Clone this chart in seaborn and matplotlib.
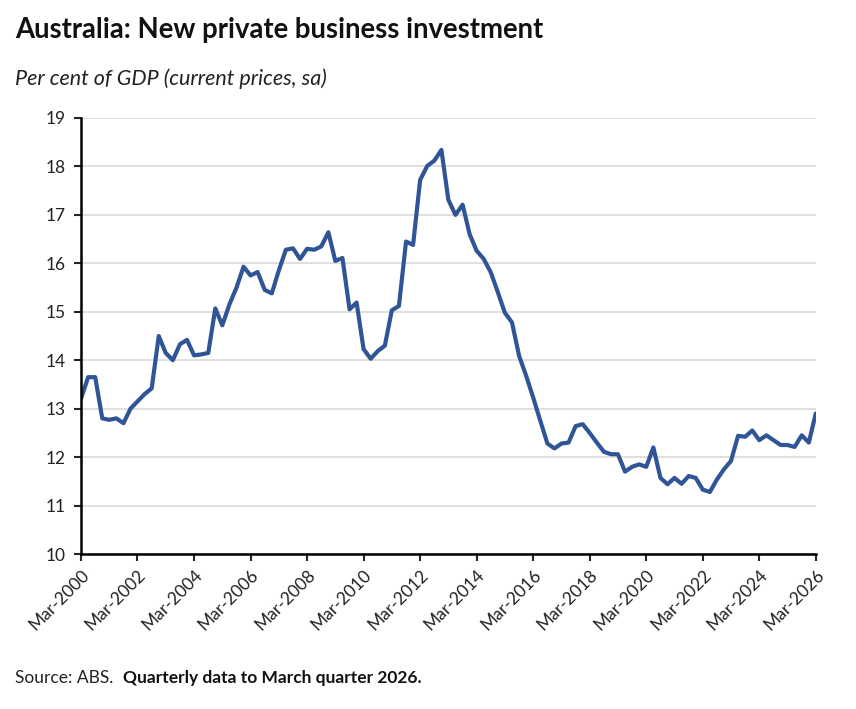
import matplotlib

matplotlib.use('Agg')
import matplotlib.pyplot as plt
import seaborn as sns
import pandas as pd

# Quarterly, Mar-2000 to Mar-2026 (per cent of GDP)
quarters = pd.date_range('2000-03-01', '2026-03-01', freq='QS-MAR')
investment = [
    13.2, 13.65, 13.65, 12.8, 12.77, 12.8, 12.7, 13.0, 13.15, 13.3,
    13.42, 14.5, 14.15, 14.0, 14.33, 14.42, 14.1, 14.12, 14.15, 15.07,
    14.72, 15.15, 15.5, 15.93, 15.75, 15.82, 15.45, 15.38, 15.85, 16.28,
    16.31, 16.09, 16.3, 16.28, 16.35, 16.64, 16.05, 16.11, 15.05, 15.19,
    14.23, 14.03, 14.19, 14.3, 15.03, 15.12, 16.45, 16.38, 17.72, 18.01,
    18.12, 18.34, 17.31, 17.0, 17.21, 16.6, 16.26, 16.09, 15.81, 15.4,
    14.98, 14.78, 14.09, 13.68, 13.23, 12.75, 12.28, 12.18, 12.28, 12.3,
    12.64, 12.68, 12.5, 12.3, 12.11, 12.06, 12.06, 11.7, 11.8, 11.85,
    11.8, 12.2, 11.57, 11.44, 11.57, 11.45, 11.61, 11.57, 11.33, 11.28,
    11.54, 11.75, 11.92, 12.44, 12.42, 12.55, 12.35, 12.45, 12.35, 12.25,
    12.25, 12.21, 12.45, 12.3, 12.9,
]
tick_years = list(range(2000, 2027, 2))
y_ticks = list(range(10, 20))

df = pd.DataFrame({'quarter': quarters, 'value': investment})

sns.set_style('white')
plt.rcParams['font.family'] = ['Lato', 'DejaVu Sans']

fig = plt.figure(figsize=(8.56, 7.09), dpi=100)
ax = fig.add_axes([0.0946, 0.2186, 0.8584, 0.615])

sns.lineplot(data=df, x='quarter', y='value', ax=ax, color='#2F5597', linewidth=3)

ax.set_ylim(10, 19)
ax.set_yticks(y_ticks)
ax.set_xlim(quarters[0], quarters[-1])
tick_dates = pd.to_datetime([f'{y}-03-01' for y in tick_years])
ax.set_xticks(tick_dates)
ax.set_xticklabels([f'Mar-{y}' for y in tick_years], rotation=45, ha='right',
                   rotation_mode='anchor', fontsize=12.5, color='#222222')
ax.tick_params(axis='y', labelsize=12.5, labelcolor='#222222', length=5, width=1.5,
               direction='out', left=True, pad=6)
ax.tick_params(axis='x', length=5, width=1.5, direction='out', bottom=True, pad=4)

ax.grid(axis='y', color='#D9D9D9', linewidth=1.2)
ax.grid(axis='x', visible=False)
ax.set_xlabel('')
ax.set_ylabel('')
for side in ['top', 'right']:
    ax.spines[side].set_visible(False)
for side in ['left', 'bottom']:
    ax.spines[side].set_color('black')
    ax.spines[side].set_linewidth(1.8)

fig.text(0.018, 0.958, 'Australia: New private business investment', fontsize=19.8,
         fontweight='bold', color='#111111', va='center', ha='left')
fig.text(0.018, 0.889, 'Per cent of GDP (current prices, sa)', fontsize=15.5,
         style='italic', color='#222222', va='center', ha='left')
src = fig.text(0.018, 0.036, 'Source: ABS.  ', fontsize=12.5, color='#222222',
               va='baseline', ha='left')
ax.annotate('Quarterly data to March quarter 2026.', xy=(1, 0), xycoords=src,
            fontsize=12.5, fontweight='bold', color='#111111', va='bottom', ha='left',
            annotation_clip=False)

fig.savefig('out.png', dpi=100)
